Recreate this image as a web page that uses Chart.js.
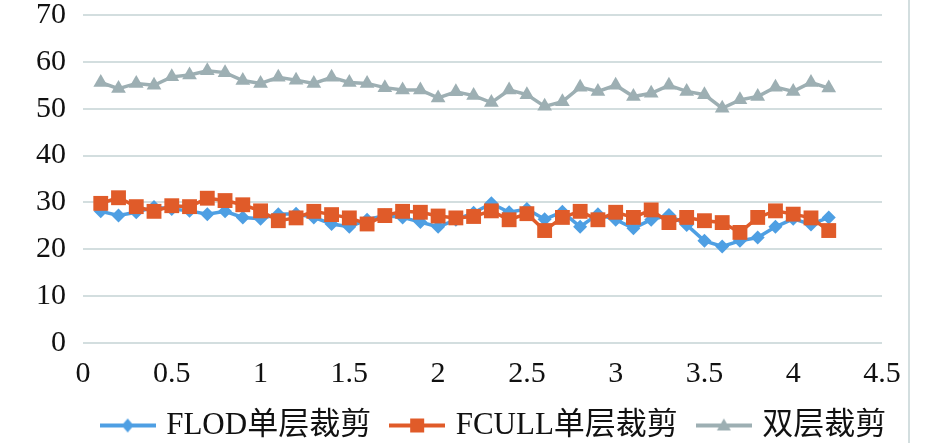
<!DOCTYPE html>
<html>
<head>
<meta charset="utf-8">
<script src="https://cdn.jsdelivr.net/npm/chart.js@4/dist/chart.umd.min.js"></script>
<style>
html,body{margin:0;padding:0;background:#fff;}
#wrap{position:relative;width:945px;height:443px;}
</style>
</head>
<body>
<div id="wrap"><canvas id="c" width="945" height="443"></canvas></div>
<script>
const xValues = [0.1,0.2,0.3,0.4,0.5,0.6,0.7,0.8,0.9,1.0,1.1,1.2,1.3,1.4,1.5,1.6,1.7,1.8,1.9,2.0,2.1,2.2,2.3,2.4,2.5,2.6,2.7,2.8,2.9,3.0,3.1,3.2,3.3,3.4,3.5,3.6,3.7,3.8,3.9,4.0,4.1,4.2];
const flodValues = [28.1,27.2,27.9,29.0,28.6,28.2,27.5,28.1,26.8,26.5,27.5,27.6,26.8,25.4,24.8,26.3,27.2,26.8,25.8,24.8,26.3,27.8,29.8,27.9,28.6,26.4,28.0,24.8,27.5,26.3,24.5,26.3,27.3,25.2,21.8,20.6,21.8,22.5,24.8,26.5,25.3,26.8];
const fcullValues = [29.8,31.0,29.1,28.1,29.3,29.1,30.9,30.4,29.5,28.2,26.1,26.7,28.1,27.4,26.7,25.4,27.2,28.1,27.9,27.1,26.7,27.0,28.2,26.3,27.6,24.0,26.8,28.1,26.3,27.9,26.8,28.4,25.7,26.8,26.1,25.7,23.6,26.8,28.2,27.5,26.7,24.0];
const doubleValues = [55.6,54.3,55.4,55.0,56.8,57.2,58.1,57.7,56.0,55.4,56.7,56.1,55.4,56.7,55.6,55.4,54.5,54.0,54.0,52.3,53.6,52.8,51.3,54.0,53.0,50.5,51.5,54.6,53.7,55.0,52.6,53.3,55.0,53.7,53.0,50.1,51.9,52.6,54.6,53.7,55.6,54.4];
const seriesNames = ['FLOD单层裁剪','FCULL单层裁剪','双层裁剪'];
const yTicks = [0,10,20,30,40,50,60,70];
const xTicks = [0,0.5,1,1.5,2,2.5,3,3.5,4,4.5];

const colors = ['#4E9FE3','#E05B29','#9DAFB3'];
const styles = ['rectRot','rect','triangle'];
const radii = [7,10.5,8.5];

function toPoints(vals){ return xValues.map((x,i)=>({x:x,y:vals[i]})); }

function legendIcon(color, style){
  const c = document.createElement('canvas');
  c.width = 56; c.height = 20;
  const g = c.getContext('2d');
  g.strokeStyle = color; g.fillStyle = color; g.lineWidth = 4;
  g.beginPath(); g.moveTo(0,10); g.lineTo(56,10); g.stroke();
  g.beginPath();
  if (style === 'rectRot') { g.moveTo(28,3); g.lineTo(34,10); g.lineTo(28,17); g.lineTo(22,10); g.closePath(); }
  else if (style === 'rect') { g.rect(21,3,14,14); }
  else { g.moveTo(28,3); g.lineTo(35,15); g.lineTo(21,15); g.closePath(); }
  g.fill();
  return c;
}
const icons = colors.map((c,i)=>legendIcon(c, styles[i]));

const allSeries = [flodValues, fcullValues, doubleValues];
const datasets = allSeries.map((vals,i)=>({
  label: seriesNames[i],
  data: toPoints(vals),
  borderColor: colors[i],
  backgroundColor: colors[i],
  borderWidth: 3.5,
  pointStyle: styles[i],
  pointRadius: radii[i],
  pointHoverRadius: radii[i],
  pointBorderWidth: 0,
  pointBackgroundColor: colors[i],
  tension: 0,
  order: [1,0,2][i]
}));

const frameLine = {
  id: 'frameLine',
  afterLayout(chart){
    const lg = chart.legend;
    if (lg) { lg.left += 45; lg.right += 45; lg.top -= 8; lg.bottom -= 8; }
  },
  afterDraw(chart){
    const ctx = chart.ctx;
    ctx.save();
    ctx.strokeStyle = '#D3DEDF';
    ctx.lineWidth = 2;
    ctx.beginPath(); ctx.moveTo(909,0); ctx.lineTo(909,443); ctx.stroke();
    ctx.restore();
  }
};

new Chart(document.getElementById('c'), {
  type: 'line',
  data: { datasets },
  options: {
    responsive: false,
    animation: false,
    devicePixelRatio: 1,
    layout: { padding: { left: 19, right: 63, top: 0, bottom: -16 } },
    plugins: {
      tooltip: { enabled: false },
      legend: {
        position: 'bottom',
        labels: {
          font: { family: '"Liberation Serif","Noto Sans CJK SC",serif', size: 31 },
          color: '#111',
          usePointStyle: true,
          pointStyleWidth: 46,
          boxHeight: 20,
          padding: 23,
          generateLabels(chart){
            return chart.data.datasets.map((d,i)=>({
              text: d.label, pointStyle: icons[i], fillStyle: colors[i], strokeStyle: colors[i],
              lineWidth: 0, datasetIndex: i, hidden: false, fontColor: '#111'
            }));
          }
        }
      }
    },
    scales: {
      x: {
        type: 'linear', min: 0, max: 4.5,
        afterBuildTicks(axis){ axis.ticks = xTicks.map(v=>({value:v})); },
        afterFit(axis){ axis.height = 52; },
        grid: { display: false, drawTicks: false },
        border: { display: false },
        ticks: { font: { family: '"Liberation Serif",serif', size: 30 }, color: '#111', padding: 13, maxRotation: 0, autoSkip: false,
          callback: v => String(v) }
      },
      y: {
        min: 0, max: 70,
        afterBuildTicks(axis){ axis.ticks = yTicks.map(v=>({value:v})); },
        afterFit(axis){ axis.paddingTop = 15; axis.paddingBottom = 0; },
        grid: { color: '#D3DEDF', lineWidth: 2, drawTicks: false },
        border: { display: false },
        ticks: { font: { family: '"Liberation Serif",serif', size: 30 }, color: '#111', padding: 17 }
      }
    }
  },
  plugins: [frameLine]
});
</script>
</body>
</html>
